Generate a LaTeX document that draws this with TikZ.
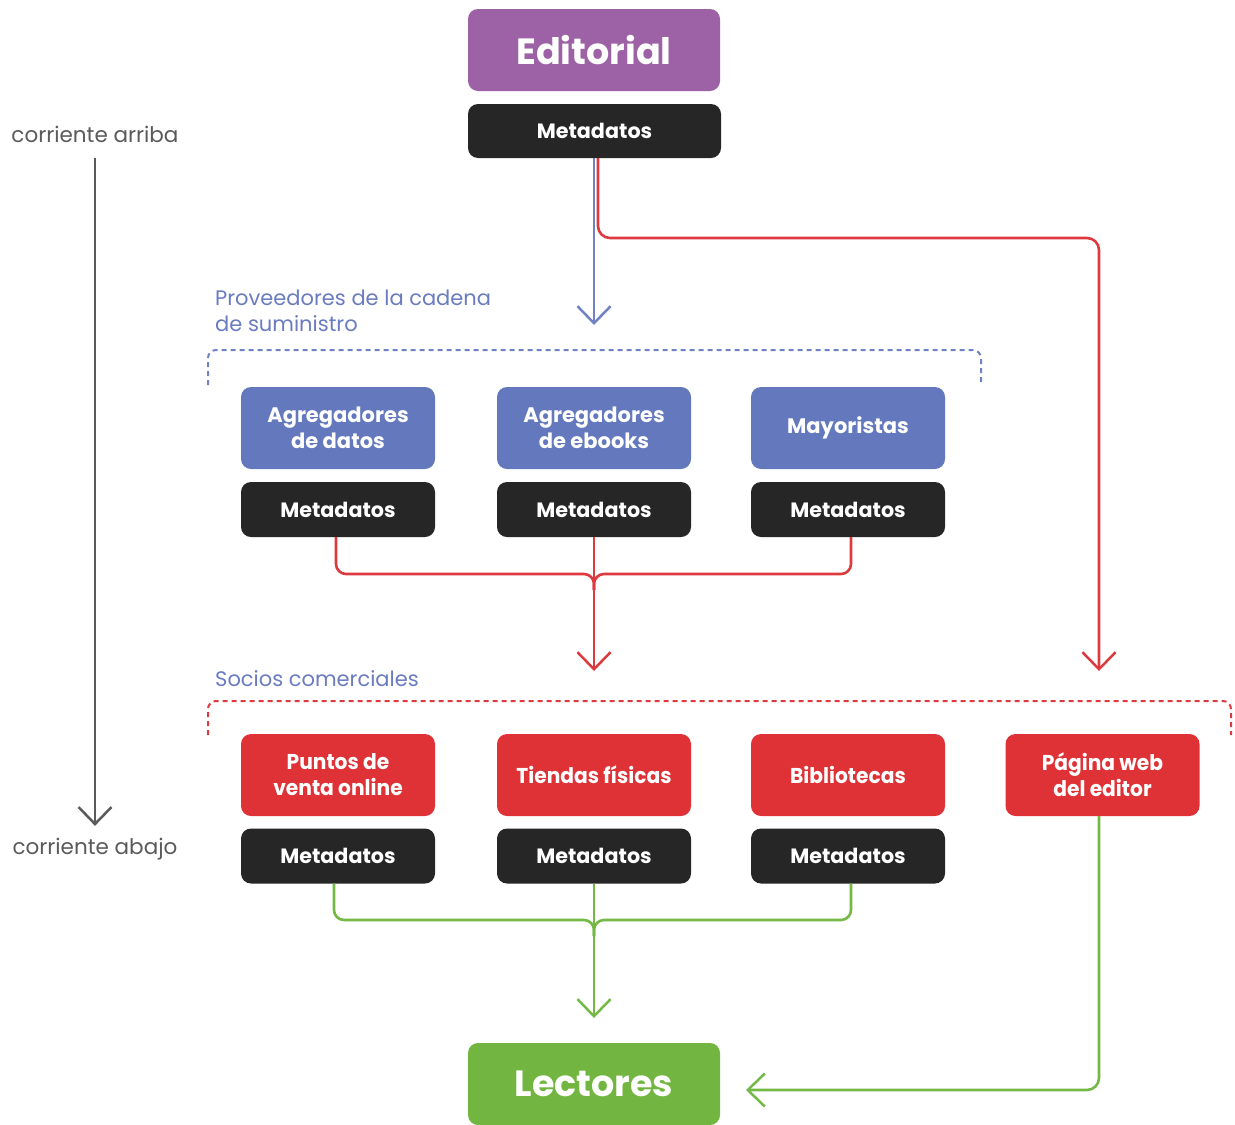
\documentclass[tikz,border=0pt]{standalone}
\usepackage{fontspec}
\setmainfont{Poppins}
\newfontfamily\condfont[FakeStretch=0.94]{Poppins}
\usetikzlibrary{arrows.meta}
\definecolor{cpurple}{HTML}{9C62A5}
\definecolor{cblue}{HTML}{6478BE}
\definecolor{cblack}{HTML}{262626}
\definecolor{cred}{HTML}{DF3237}
\definecolor{cgreen}{HTML}{72B641}
\definecolor{clabel}{HTML}{6A7BC0}
\definecolor{cgray}{HTML}{5A5A5A}
\definecolor{credl}{HTML}{DC3A3E}
\definecolor{cgreenl}{HTML}{74B846}
\definecolor{cbluel}{HTML}{7182C4}
\begin{document}
\begin{tikzpicture}[x=1pt,y=-1pt,
  basebox/.style={rounded corners=10pt, inner sep=0pt, align=center, text=white},
  bigbox/.style={basebox, minimum width=252pt, minimum height=82pt, font=\bfseries\fontsize{36.5}{42}\selectfont},
  meta/.style={basebox, fill=cblack, minimum width=194pt, minimum height=55pt, font=\bfseries\fontsize{20.7}{24}\selectfont},
  bluebox/.style={basebox, fill=cblue, minimum width=194pt, minimum height=82pt, font=\bfseries\fontsize{21}{26}\selectfont},
  redbox/.style={basebox, fill=cred, minimum width=194pt, minimum height=82pt, font=\condfont\bfseries\fontsize{21.5}{26}\selectfont},
  tip/.style={-{Straight Barb[length=17pt,width=33pt,line width=2.5pt]}},
  conn/.style={line width=2.6pt},
  bline/.style={conn, draw=cbluel},
  rline/.style={conn, draw=credl},
  gline/.style={conn, draw=cgreenl},
  grayline/.style={conn, draw=cgray},
  grouplabel/.style={text=clabel, anchor=north west, align=left, inner sep=0pt, font=\fontsize{21}{26}\selectfont},
  sidelabel/.style={text=cgray, inner sep=0pt, font=\fontsize{21.5}{25}\selectfont},
  dashbox/.style={line width=2pt, dash pattern=on 5pt off 4pt, rounded corners=8pt}
]
\useasboundingbox (0,0) rectangle (1235,1125);

% top
\node[bigbox, fill=cpurple] (ed) at (594,50) {Editorial};
\node[meta, minimum width=253pt, minimum height=54pt] (mt) at (594.5,131) {Metadatos};

% side labels
\node[sidelabel] (up) at (95,134) {corriente arriba};
\node[sidelabel] (down) at (95,849) {corriente abajo};
\draw[grayline, tip] ([yshift=-16pt]up.south) -- ([yshift=12pt]down.north);

% suppliers group
\node[grouplabel] (gl1) at (215,290) {Proveedores de la cadena\\de suministro};
\draw[dashbox, draw=cbluel] (208,385) -- (208,350) -- (981,350) -- (981,382);
\node[bluebox] (b1) at (338,428) {Agregadores\\de datos};
\node[bluebox] (b2) at (594,428) {Agregadores\\de ebooks};
\node[bluebox] (b3) at (848,428) {Mayoristas};
\node[meta] (m1) at (338,509.5) {Metadatos};
\node[meta] (m2) at (594,509.5) {Metadatos};
\node[meta] (m3) at (848,509.5) {Metadatos};

% commercial partners group
\node[grouplabel] (gl2) at (215,670) {Socios comerciales};
\draw[dashbox, draw=credl] (208,735) -- (208,701) -- (1231,701) -- (1231,735);
\node[redbox] (r1) at (338,775) {Puntos de\\venta online};
\node[redbox] (r2) at (594,775) {Tiendas físicas};
\node[redbox] (r3) at (848,775) {Bibliotecas};
\node[redbox] (r4) at (1102.5,775) {Página web\\del editor};
\node[meta] (n1) at (338,856) {Metadatos};
\node[meta] (n2) at (594,856) {Metadatos};
\node[meta] (n3) at (848,856) {Metadatos};

% readers
\node[bigbox, fill=cgreen] (lec) at (594,1084) {Lectores};

% coordinates
\coordinate (blueEnd) at (594,325);
\coordinate (redCorner) at (1099,238);
\coordinate (redEnd) at (1099,671);
\coordinate (redJoin) at (594,574);
\coordinate (redMid) at (594,671);
\coordinate (greenJoin) at (594,920);
\coordinate (greenMid) at (594,1018);
\coordinate (greenEnd) at (746,1090);

% top connectors
\draw[bline, tip] ([xshift=-0.5pt]mt.south) -- (blueEnd);
\draw[rline, tip, rounded corners=12pt] ([xshift=3.5pt]mt.south) |- (redCorner) -- (redEnd);

% red merge
\draw[rline, rounded corners=10pt] ([xshift=-2pt]m1.south) |- (redJoin) -- ++(0,16);
\draw[rline, rounded corners=10pt] ([xshift=3pt]m3.south) |- (redJoin) -- ++(0,16);
\draw[rline, tip] (m2.south) -- (redMid);

% green merge
\draw[gline, rounded corners=10pt] ([xshift=-4pt]n1.south) |- (greenJoin) -- ++(0,16);
\draw[gline, rounded corners=10pt] ([xshift=3pt]n3.south) |- (greenJoin) -- ++(0,16);
\draw[gline, tip] (n2.south) -- (greenMid);
\draw[gline, tip, rounded corners=12pt] ([xshift=-3.5pt]r4.south) |- (greenEnd);
\end{tikzpicture}
\end{document}
